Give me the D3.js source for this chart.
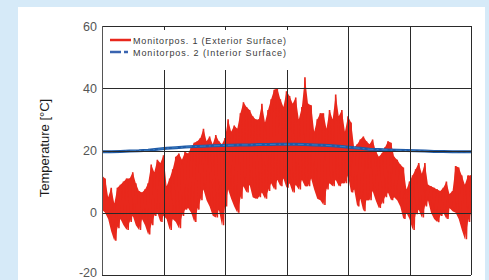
<!DOCTYPE html>
<html>
<head>
<meta charset="utf-8">
<script src="https://cdn.jsdelivr.net/npm/d3@7"></script>
<style>
  html, body { margin: 0; padding: 0; background: #d6eaf8; }
  svg { display: block; }
</style>
</head>
<body>
<svg id="chart" width="489" height="280"></svg>
<script>
// ---- Data ----
// Exterior surface temperature: local peaks / troughs every 3 days (°C)
const exteriorHigh = [12, 11, 5, 8, 3, 8, 9, 10, 11, 11, 13, 9.5, 7, 6.5, 7.5, 9.5, 15.5, 13, 17, 16,
  18.5, 8.5, 11, 14, 18, 19, 17, 19.5, 19, 21, 22.5, 23, 24, 27, 23, 24.5, 22, 25, 23, 22,
  24, 30, 26, 28, 27, 32, 35.5, 34, 33, 31, 30, 30, 35, 29, 33, 36.5, 39.5, 40, 36.5, 34,
  39, 37.5, 35, 37, 30, 34, 43.5, 35, 34.5, 26, 30, 32, 32, 27, 33, 30, 38, 31, 33, 26,
  31, 29, 21, 22, 23.5, 24.5, 23, 22, 23.5, 20, 18, 19, 21, 23, 22.5, 18, 17, 15.5, 14.5, 7.5,
  10, 12, 14, 16, 12.5, 16, 9, 8.5, 8, 7.5, 7, 8, 10, 6, 7, 15, 14.5, 12, 9, 12, 12];
const exteriorLow = [1, 0, -2, -6, -9, -5, -2, -4, -5.5, -3, -1, -4, -5.5, -2, -4, -7, -4, -1, 0, -3,
  -1, -2, -5.5, -2, -3, -5, -1, 1, 1.5, 0, -3, 1, 4, 7.5, 4, 2, -1, -1.5, 1, -4,
  2, 7.5, 4.5, 2, 0, 4.5, 8.5, 6.5, 9, 5, 4.5, 5, 6.5, 4.5, 7, 9.5, 7.5, 10.6, 8.5, 11,
  8, 9.5, 6.5, 9, 7.5, 10.6, 8.5, 8.5, 11, 7.5, 4.5, 4, 2.5, 7.5, 9.5, 8.5, 10.6, 8.5, 9.5, 9.5,
  12, 6.5, 7.5, 2, 4.5, 0.5, 4, 4, 7, 4, 1.5, 3, 5, 6.5, 4, 5, 4, 2, -2, 0,
  -2, -5.5, -0.5, 1, -1.5, 2, 4, 0, -2, -3, -1, 0, -2, 1.5, 0.5, 0, -2, -5.5, -8.5, -3, 0];
// Interior surface temperature every 9 days (°C)
const interiorTemp = [19.6, 19.6, 19.7, 19.8, 19.9, 20.1, 20.4, 20.7, 20.9, 21.1, 21.3, 21.4, 21.5, 21.6,
  21.7, 21.8, 21.8, 21.9, 21.9, 22.0, 22.0, 22.0, 21.9, 21.8, 21.7, 21.5, 21.3, 21.0, 20.7, 20.4,
  20.3, 20.2, 20.1, 20.0, 19.9, 19.8, 19.7, 19.7, 19.6, 19.6, 19.6];
const exteriorStepDays = 3;
const interiorStepDays = 9;
const yTicks = [60, 40, 20, 0, -20];
const xGridDays = [0, 60, 120, 180, 240, 300, 360];
const seriesNames = ["Monitorpos. 1 (Exterior Surface)", "Monitorpos. 2 (Interior Surface)"];
const yTitle = "Temperature [°C]";

// ---- Layout ----
const svg = d3.select("#chart");
const plot = { left: 102, right: 471, top: 26, bottom: 275 };
const x = d3.scaleLinear().domain([0, 360]).range([plot.left, plot.right]);
const y = d3.scaleLinear().domain([-20, 60]).range([plot.bottom, plot.top]);
const red = "#e8281c";

// white panel
svg.append("rect").attr("x", 18).attr("y", 7).attr("width", 467).attr("height", 280).attr("fill", "#ffffff");

svg.append("defs").append("clipPath").attr("id", "plotclip")
  .append("rect").attr("x", plot.left).attr("y", plot.top)
  .attr("width", plot.right - plot.left).attr("height", plot.bottom - plot.top);

const g = svg.append("g").attr("clip-path", "url(#plotclip)");

// exterior: band between troughs and peaks, plus zig-zag trace for the spiky edges
const extBand = exteriorHigh.map((h, i) => ({ d: i * exteriorStepDays, hi: h, lo: exteriorLow[i] }));
g.append("path").datum(extBand)
  .attr("d", d3.area().x(d => x(d.d)).y0(d => y(d.lo)).y1(d => y(d.hi)))
  .attr("fill", red);

const extPts = [];
exteriorHigh.forEach((h, i) => {
  extPts.push([i * exteriorStepDays, h]);
  extPts.push([i * exteriorStepDays + exteriorStepDays / 2, exteriorLow[i]]);
});
const line = d3.line().x(d => x(d[0])).y(d => y(d[1]));
g.append("path").datum(extPts).attr("d", line)
  .attr("fill", "none").attr("stroke", red).attr("stroke-width", 1.6);

// grid
const grid = svg.append("g").attr("stroke", "#2a2a2a").attr("stroke-width", 1).attr("shape-rendering", "crispEdges");
yTicks.forEach(t => {
  grid.append("line").attr("x1", plot.left).attr("x2", plot.right).attr("y1", Math.round(y(t)) + 0.5).attr("y2", Math.round(y(t)) + 0.5);
});
xGridDays.forEach(d => {
  grid.append("line").attr("x1", Math.round(x(d)) + 0.5).attr("x2", Math.round(x(d)) + 0.5).attr("y1", plot.top).attr("y2", plot.bottom);
});

// interior line
const intPts = interiorTemp.map((v, i) => [i * interiorStepDays, v]);
g.append("path").datum(intPts).attr("d", line)
  .attr("fill", "none").attr("stroke", "#1f5aa6").attr("stroke-width", 3);
g.append("path").datum(intPts).attr("d", line)
  .attr("fill", "none").attr("stroke", "#3f86c8").attr("stroke-width", 1)
  .attr("stroke-dasharray", "6,3,2,3").attr("opacity", 0.8);

// legend box
svg.append("rect").attr("x", plot.left + 1).attr("y", plot.top + 1).attr("width", 192).attr("height", 43).attr("fill", "#ffffff");
// top tick marks under legend
xGridDays.slice(1, 4).forEach(d => {
  svg.append("line").attr("x1", Math.round(x(d)) + 0.5).attr("x2", Math.round(x(d)) + 0.5)
    .attr("y1", plot.top).attr("y2", plot.top + 4).attr("stroke", "#2a2a2a").attr("shape-rendering", "crispEdges");
});
svg.append("line").attr("x1", plot.left).attr("x2", plot.right).attr("y1", plot.top + 0.5).attr("y2", plot.top + 0.5)
  .attr("stroke", "#2a2a2a").attr("shape-rendering", "crispEdges");
svg.append("line").attr("x1", plot.left + 0.5).attr("x2", plot.left + 0.5).attr("y1", plot.top).attr("y2", plot.bottom)
  .attr("stroke", "#555").attr("shape-rendering", "crispEdges");

const leg = svg.append("g");
leg.append("line").attr("x1", 110).attr("x2", 131).attr("y1", 40).attr("y2", 40)
  .attr("stroke", red).attr("stroke-width", 2.5);
leg.append("line").attr("x1", 110).attr("x2", 131).attr("y1", 52).attr("y2", 52)
  .attr("stroke", "#3a64b0").attr("stroke-width", 2.5).attr("stroke-dasharray", "11,3,4,3");
seriesNames.forEach((name, i) => {
  leg.append("text").attr("x", 133).attr("y", 43.5 + i * 12)
    .attr("font-family", "Liberation Sans, Arial, sans-serif").attr("font-size", 9)
    .attr("fill", "#3a3a3a").attr("textLength", 153).attr("lengthAdjust", "spacing")
    .text(name);
});

// y tick labels
yTicks.forEach(t => {
  svg.append("text").attr("x", 97).attr("y", Math.min(y(t) + 4.5, 276.5)).attr("text-anchor", "end")
    .attr("font-family", "Liberation Sans, Arial, sans-serif").attr("font-size", 12.5)
    .attr("fill", "#555").text(t);
});

// y title
svg.append("text").attr("transform", "translate(49,148) rotate(-90)").attr("text-anchor", "middle")
  .attr("font-family", "Liberation Sans, Arial, sans-serif").attr("font-size", 13)
  .attr("fill", "#1a1a1a").text(yTitle);
</script>
</body>
</html>
